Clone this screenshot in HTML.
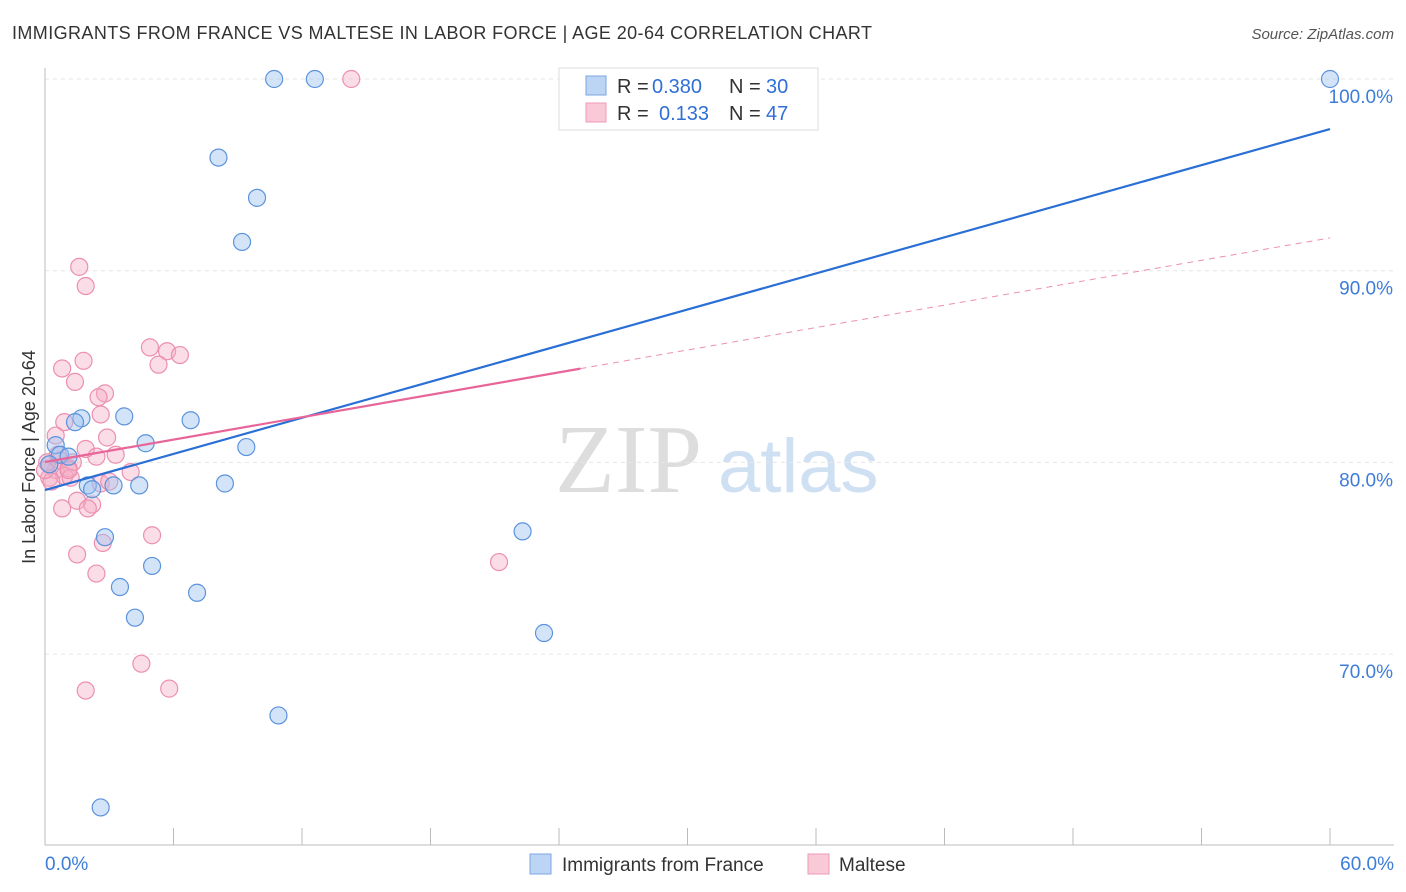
<!DOCTYPE html>
<html><head><meta charset="utf-8"><style>
body{margin:0;background:#fff;font-family:"Liberation Sans",sans-serif;}
#wrap{position:relative;width:1406px;height:892px;overflow:hidden;}
</style></head><body>
<div id="wrap">
<svg id="svg" width="1406" height="892">
<text x="12" y="39" font-size="18" fill="#333" textLength="860">IMMIGRANTS FROM FRANCE VS MALTESE IN LABOR FORCE | AGE 20-64 CORRELATION CHART</text>
<text x="1394" y="39" font-size="15" fill="#555" font-style="italic" text-anchor="end">Source: ZipAtlas.com</text>
<text x="35" y="457" font-size="18" fill="#333" text-anchor="middle" transform="rotate(-90 35 457)">In Labor Force | Age 20-64</text>
<text x="555" y="492" font-size="98" fill="#ddd" font-family="Liberation Serif">ZIP</text>
<text x="718" y="492" font-size="76" fill="#cfe0f3">atlas</text>
<g id="grid"></g><g id="pts"></g><g id="lines"></g>
<g>
<rect x="559" y="68" width="259" height="62" fill="#fff" stroke="#ddd"/>
<rect x="586" y="76" width="20" height="19" fill="#bcd5f5" stroke="#7aa6e0"/>
<text x="617" y="93" font-size="20" fill="#333">R =</text>
<text x="652" y="93" font-size="20" fill="#2f6fd6">0.380</text>
<text x="729" y="93" font-size="20" fill="#333">N =</text>
<text x="766" y="93" font-size="20" fill="#2f6fd6">30</text>
<rect x="586" y="103" width="20" height="19" fill="#fac9d8" stroke="#ee9ab4"/>
<text x="617" y="120" font-size="20" fill="#333">R =</text>
<text x="659" y="120" font-size="20" fill="#2f6fd6">0.133</text>
<text x="729" y="120" font-size="20" fill="#333">N =</text>
<text x="766" y="120" font-size="20" fill="#2f6fd6">47</text>
</g>
<g>
<rect x="530" y="854" width="21" height="20" fill="#bcd5f5" stroke="#7aa6e0"/>
<text x="562" y="871" font-size="19" fill="#333">Immigrants from France</text>
<rect x="808" y="854" width="21" height="20" fill="#fac9d8" stroke="#ee9ab4"/>
<text x="839" y="871" font-size="19" fill="#333">Maltese</text>
</g>
</svg></div>
<script>
const yTicks=[100,90,80,70];
const xTickLabels=["0.0%","60.0%"];
const blueX=[10.7,12.6,60.0,8.1,9.9,9.2,3.7,6.8,1.7,1.4,0.5,4.7,9.4,0.7,1.1,2.0,2.2,3.2,4.4,8.4,2.8,5.0,3.5,7.1,4.2,22.3,23.3,10.9,2.6,0.2];
const blueY=[100,100,100,95.9,93.8,91.5,82.4,82.2,82.3,82.1,80.9,81.0,80.8,80.4,80.3,78.8,78.6,78.8,78.8,78.9,76.1,74.6,73.5,73.2,71.9,76.4,71.1,66.8,62.0,79.9];
const pinkX=[14.3,1.6,1.9,4.9,5.7,6.3,5.3,1.8,0.8,1.4,2.8,2.5,2.6,0.9,0.5,2.9,1.9,3.3,2.4,0.7,1.3,0.2,0.5,1.1,0.9,1.2,0.2,0.3,4.0,2.6,1.5,0.8,2.2,2.0,2.7,5.0,1.5,2.4,21.2,4.5,5.8,1.9,0.1,0.6,0.0,1.1,3.0];
const pinkY=[100,90.2,89.2,86.0,85.8,85.6,85.1,85.3,84.9,84.2,83.6,83.4,82.5,82.1,81.4,81.3,80.7,80.4,80.3,80.1,80.0,79.9,79.6,79.7,79.3,79.2,79.2,79.0,79.5,78.9,78.0,77.6,77.8,77.6,75.8,76.2,75.2,74.2,74.8,69.5,68.2,68.1,80.0,80.4,79.6,79.6,79.0];
const blueLine=[78.56,97.39];
const pinkLine=[80.02,91.71];
const pinkSolidEnd=25.0;
const X=v=>45+v/60*1285, Y=v=>79+(100-v)*19.17;
const NS="http://www.w3.org/2000/svg";
function mk(t,a,p){const e=document.createElementNS(NS,t);for(const k in a)e.setAttribute(k,a[k]);p.appendChild(e);return e;}
const svg=document.getElementById('svg'),grid=document.getElementById('grid'),pts=document.getElementById('pts'),lines=document.getElementById('lines');
yTicks.forEach(t=>{const l=mk('line',{x1:45,x2:1394,y1:Y(t),y2:Y(t),stroke:'#e6e6e6','stroke-dasharray':'4 4'},grid);


const tx=mk('text',{x:1393,y:Y(t)+24,'font-size':19,fill:'#3d7dd8','text-anchor':'end'},grid);tx.textContent=t.toFixed(1)+'%';

});
const ax=mk('line',{x1:45,x2:45,y1:68,y2:845,stroke:'#bbb'},grid);


const bx=mk('line',{x1:45,x2:1394,y1:845,y2:845,stroke:'#bbb'},grid);


for(let i=0;i<=10;i++){const tk=mk('line',{x1:X(i*6),x2:X(i*6),y1:828,y2:845,stroke:'#bbb'},grid);

}
[[0,'start',45],[60,'end',1394]].forEach((d,i)=>{const t=mk('text',{x:d[2],y:870,'font-size':19,fill:'#3d7dd8','text-anchor':d[1]},grid);t.textContent=xTickLabels[i];

});
pinkX.forEach((x,i)=>{const c=mk('circle',{cx:X(x),cy:Y(pinkY[i]),r:8.5,fill:'rgba(246,170,195,0.4)',stroke:'#ec8fb0','stroke-width':1.2},pts);

});
blueX.forEach((x,i)=>{const c=mk('circle',{cx:X(x),cy:Y(blueY[i]),r:8.5,fill:'rgba(160,196,240,0.45)',stroke:'#5b93dd','stroke-width':1.2},pts);

});
const pl=v=>pinkLine[0]+(pinkLine[1]-pinkLine[0])*v/60;
const l1=mk('line',{x1:X(0),y1:Y(blueLine[0]),x2:X(60),y2:Y(blueLine[1]),stroke:'#2a6fd6','stroke-width':2.2},lines);


const l2=mk('line',{x1:X(0),y1:Y(pl(0)),x2:X(pinkSolidEnd),y2:Y(pl(pinkSolidEnd)),stroke:'#e8659a','stroke-width':2.2},lines);


const l3=mk('line',{x1:X(pinkSolidEnd),y1:Y(pl(pinkSolidEnd)),x2:X(60),y2:Y(pl(60)),stroke:'#eb8fb2','stroke-width':1,'stroke-dasharray':'6 5'},lines);


</script>
</body></html>
